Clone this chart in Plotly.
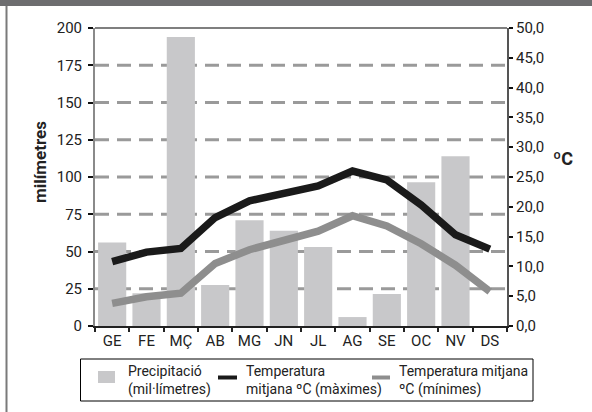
import plotly.graph_objects as go

months = ["GE", "FE", "MÇ", "AB", "MG", "JN", "JL", "AG", "SE", "OC", "NV", "DS"]
precip = [56, 22, 194, 27.5, 71, 64, 53, 6, 21.5, 96.5, 114, 0]
tmax = [10.8, 12.4, 13.0, 18.2, 21.0, 22.3, 23.5, 26.0, 24.5, 20.3, 15.3, 12.9]
tmin = [3.8, 4.9, 5.5, 10.5, 12.8, 14.4, 15.9, 18.5, 16.8, 13.8, 10.2, 5.8]
left_ticks = [0, 25, 50, 75, 100, 125, 150, 175, 200]
grid_vals = [25, 50, 75, 100, 125, 150, 175]
right_ticks = [0, 5, 10, 15, 20, 25, 30, 35, 40, 45, 50]

W, H = 592, 412
L, R, T, B = 95, 507, 28, 326
FONT = "Liberation Sans Narrow, Arial Narrow, Roboto, Liberation Sans, sans-serif"


def px(p):
    return (p - L) / (R - L)


def py(p):
    return (B - p) / (B - T)


fig = go.Figure()
fig.add_trace(go.Bar(x=months, y=precip, name="Precipitació (mil·límetres)",
                     marker=dict(color="#c8c8ca", line=dict(width=0)),
                     yaxis="y", showlegend=False))
fig.add_trace(go.Scatter(x=months, y=tmax, name="Temperatura mitjana ºC (màximes)",
                         mode="lines", line=dict(color="#1a1a1a", width=7.5),
                         yaxis="y2", showlegend=False))
fig.add_trace(go.Scatter(x=months, y=tmin, name="Temperatura mitjana ºC (mínimes)",
                         mode="lines", line=dict(color="#8e8e8e", width=7.5),
                         yaxis="y2", showlegend=False))

shapes = []
for g in grid_vals:
    shapes.append(dict(type="line", xref="paper", yref="y", x0=0, x1=1, y0=g, y1=g,
                       line=dict(color="#9a9a9a", width=3, dash="14px,8px"), layer="below"))
# top border of plot
shapes.append(dict(type="line", xref="paper", yref="paper", x0=0, x1=1, y0=1, y1=1,
                   line=dict(color="#000000", width=1.2)))
# top band
shapes.append(dict(type="rect", xref="paper", yref="paper", x0=px(0), x1=px(W), y0=py(6), y1=py(-2),
                   line=dict(width=0), fillcolor="#6d6d6f"))
# left frame line
shapes.append(dict(type="line", xref="paper", yref="paper", x0=px(6.5), x1=px(6.5), y0=py(6), y1=py(414),
                   line=dict(color="#7a7a7a", width=2)))
# legend box
shapes.append(dict(type="rect", xref="paper", yref="paper", x0=px(80.5), x1=px(533), y0=py(359), y1=py(401),
                   line=dict(color="#000000", width=1), fillcolor="rgba(0,0,0,0)"))
shapes.append(dict(type="rect", xref="paper", yref="paper", x0=px(98), x1=px(115), y0=py(371), y1=py(383),
                   line=dict(width=0), fillcolor="#c8c8ca"))
shapes.append(dict(type="line", xref="paper", yref="paper", x0=px(218), x1=px(237), y0=py(377.5), y1=py(377.5),
                   line=dict(color="#1a1a1a", width=4)))
shapes.append(dict(type="line", xref="paper", yref="paper", x0=px(372), x1=px(390), y0=py(377.5), y1=py(377.5),
                   line=dict(color="#8e8e8e", width=4)))

annotations = [
    dict(text="<b>milímetres</b>", xref="paper", yref="paper", x=px(40), y=py(162),
         textangle=-90, showarrow=False, font=dict(size=17, color="#222"), xanchor="center", yanchor="middle"),
    dict(text="<b>ºC</b>", xref="paper", yref="paper", x=px(563), y=py(158),
         showarrow=False, font=dict(size=18, color="#222"), xanchor="center", yanchor="middle"),
    dict(text="Precipitació<br>(mil·límetres)", xref="paper", yref="paper", x=px(126), y=py(380),
         showarrow=False, align="left", xanchor="left", yanchor="middle", font=dict(size=14, color="#222")),
    dict(text="Temperatura<br>mitjana ºC (màximes)", xref="paper", yref="paper", x=px(244), y=py(380),
         showarrow=False, align="left", xanchor="left", yanchor="middle", font=dict(size=14, color="#222")),
    dict(text="Temperatura mitjana<br>ºC (mínimes)", xref="paper", yref="paper", x=px(397), y=py(380),
         showarrow=False, align="left", xanchor="left", yanchor="middle", font=dict(size=14, color="#222")),
]

fig.update_layout(
    width=W, height=H,
    margin=dict(l=L, r=W - R, t=T, b=H - B, pad=0),
    paper_bgcolor="white", plot_bgcolor="white",
    font=dict(family=FONT, size=14, color="#222"),
    separators=",.",
    bargap=0.18,
    showlegend=False,
    xaxis=dict(showline=True, linecolor="#222", linewidth=2, ticks="outside", tickson="boundaries",
               ticklen=4, tickwidth=1.5, tickcolor="#222", showgrid=False, tickfont=dict(size=15),
               fixedrange=True),
    yaxis=dict(range=[0, 200], tickvals=left_ticks, showline=True, linecolor="#8a8a8a", linewidth=2,
               ticks="outside", ticklen=5, tickwidth=2, tickcolor="#111", showgrid=False, zeroline=False,
               tickfont=dict(size=15), ticklabelstandoff=3),
    yaxis2=dict(range=[0, 50], tickvals=right_ticks, tickformat=".1f", overlaying="y", side="right",
                showline=True, linecolor="#555", linewidth=2, ticks="outside", ticklen=4, tickwidth=2,
                tickcolor="#111", showgrid=False, zeroline=False, tickfont=dict(size=15)),
    shapes=shapes,
    annotations=annotations,
)

fig.write_html("out.html", config={"displayModeBar": False},
               post_script="document.body.style.margin='0';document.body.style.overflow='hidden';")
